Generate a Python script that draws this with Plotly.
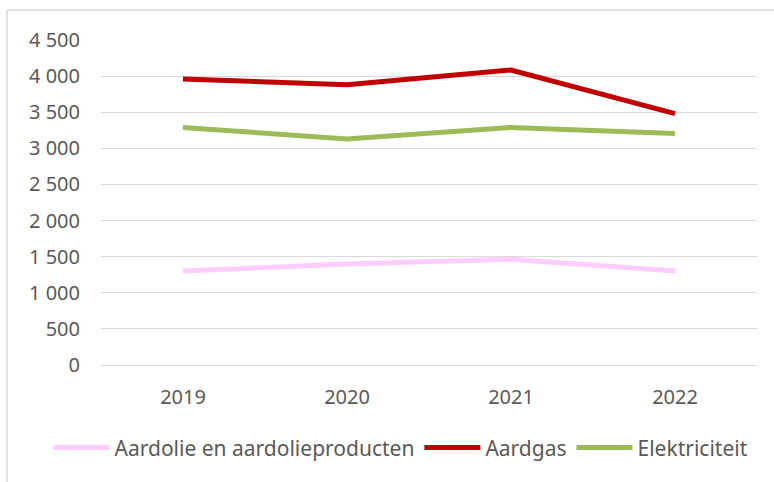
import plotly.graph_objects as go

years = ["2019", "2020", "2021", "2022"]
aardolie = [1300, 1400, 1465, 1300]
aardgas = [3960, 3880, 4085, 3480]
elektriciteit = [3290, 3130, 3290, 3205]

y_ticks = [0, 500, 1000, 1500, 2000, 2500, 3000, 3500, 4000, 4500]
y_labels = ["0", "500", "1 000", "1 500", "2 000", "2 500", "3 000", "3 500", "4 000", "4 500"]

series = [
    ("Aardolie en aardolieproducten", aardolie, "#FFCCFF"),
    ("Aardgas", aardgas, "#C00000"),
    ("Elektriciteit", elektriciteit, "#9BBB59"),
]

fig = go.Figure()
for name, vals, color in series:
    fig.add_trace(go.Scatter(
        x=years, y=vals, name=name, mode="lines",
        line=dict(color=color, width=5),
    ))

tick_font = dict(family="Noto Sans, Calibri, sans-serif", size=20, color="#595959")
legend_font = dict(family="Noto Sans, Calibri, sans-serif", size=21, color="#595959")

fig.update_layout(
    width=774, height=482,
    margin=dict(l=101, r=17, t=40, b=117),
    paper_bgcolor="white", plot_bgcolor="white",
    font=tick_font,
    showlegend=True,
    # anchored left of the plot area so plotly lets the row run wider than the plot
    legend=dict(
        orientation="h", x=-0.08, xanchor="left", y=-0.255, yanchor="middle",
        itemwidth=56, font=legend_font, traceorder="normal",
    ),
    xaxis=dict(
        type="category", range=[-0.5, 3.5], showgrid=False,
        showline=True, linecolor="#D9D9D9", linewidth=1,
        ticks="", ticklabelstandoff=14, tickfont=tick_font,
    ),
    yaxis=dict(
        range=[0, 4500], tickvals=y_ticks, ticktext=y_labels,
        showgrid=True, gridcolor="#D9D9D9", gridwidth=1,
        zeroline=False, ticks="", ticklabelstandoff=20, tickfont=tick_font,
    ),
    shapes=[dict(
        type="rect", xref="paper", yref="paper",
        x0=-0.1433, x1=1.05, y0=-0.5, y1=1.0923,
        line=dict(color="#D9D9D9", width=1.5), fillcolor="rgba(0,0,0,0)",
    )],
)

# drop the page's default body margin so the figure sits at (0, 0)
fig.write_html("out.html", config={"displayModeBar": False},
               post_script="document.body.style.margin='0';")
